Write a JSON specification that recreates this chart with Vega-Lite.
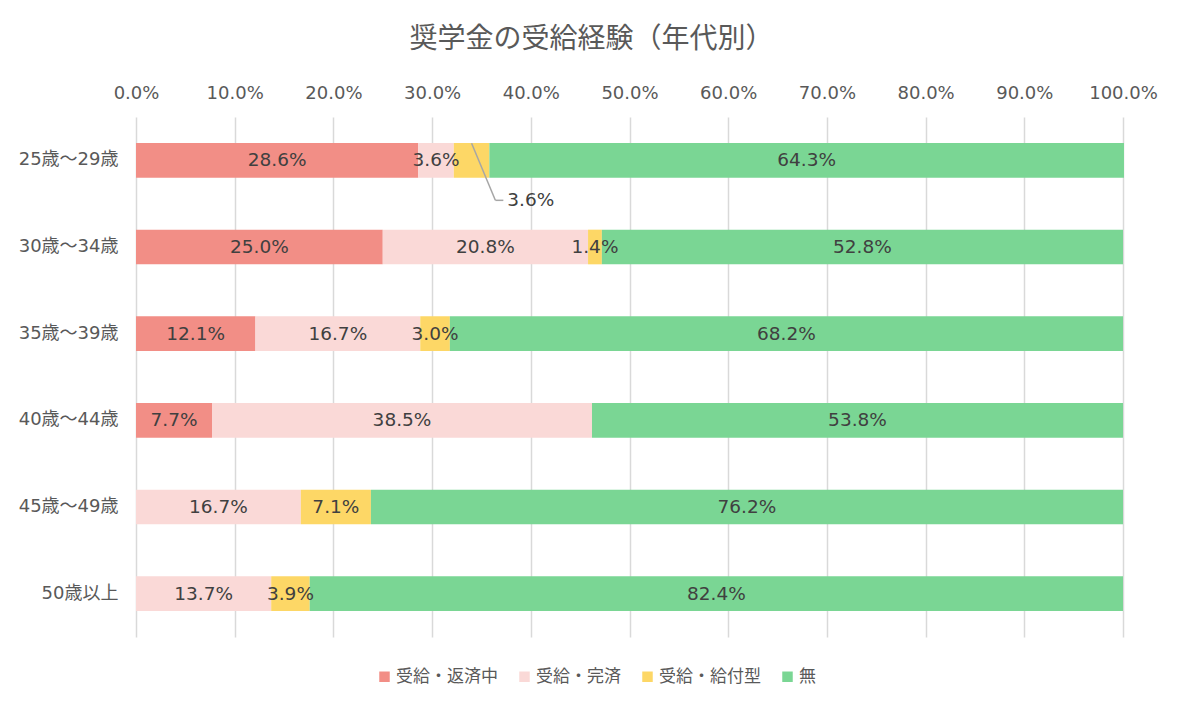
{
  "$schema": "https://vega.github.io/schema/vega-lite/v6.json",
  "width": 987,
  "height": 520,
  "autosize": "none",
  "padding": {"left": 136, "top": 117, "right": 59, "bottom": 72},
  "background": "white",
  "title": {
    "text": "奨学金の受給経験（年代別）",
    "fontSize": 28,
    "fontWeight": "normal",
    "color": "#595959",
    "font": "Noto Sans CJK JP",
    "anchor": "middle",
    "dx": -38,
    "offset": 30
  },
  "config": {
    "view": {"stroke": null},
    "font": "DejaVu Sans, Noto Sans CJK JP"
  },
  "data": {
    "values": [
      {"age": "25歳～29歳", "cat": "受給・返済中", "ord": 1, "value": 28.6},
      {"age": "25歳～29歳", "cat": "受給・完済", "ord": 2, "value": 3.6},
      {"age": "25歳～29歳", "cat": "受給・給付型", "ord": 3, "value": 3.6},
      {"age": "25歳～29歳", "cat": "無", "ord": 4, "value": 64.3},
      {"age": "30歳～34歳", "cat": "受給・返済中", "ord": 1, "value": 25.0},
      {"age": "30歳～34歳", "cat": "受給・完済", "ord": 2, "value": 20.8},
      {"age": "30歳～34歳", "cat": "受給・給付型", "ord": 3, "value": 1.4},
      {"age": "30歳～34歳", "cat": "無", "ord": 4, "value": 52.8},
      {"age": "35歳～39歳", "cat": "受給・返済中", "ord": 1, "value": 12.1},
      {"age": "35歳～39歳", "cat": "受給・完済", "ord": 2, "value": 16.7},
      {"age": "35歳～39歳", "cat": "受給・給付型", "ord": 3, "value": 3.0},
      {"age": "35歳～39歳", "cat": "無", "ord": 4, "value": 68.2},
      {"age": "40歳～44歳", "cat": "受給・返済中", "ord": 1, "value": 7.7},
      {"age": "40歳～44歳", "cat": "受給・完済", "ord": 2, "value": 38.5},
      {"age": "40歳～44歳", "cat": "受給・給付型", "ord": 3, "value": 0},
      {"age": "40歳～44歳", "cat": "無", "ord": 4, "value": 53.8},
      {"age": "45歳～49歳", "cat": "受給・返済中", "ord": 1, "value": 0},
      {"age": "45歳～49歳", "cat": "受給・完済", "ord": 2, "value": 16.7},
      {"age": "45歳～49歳", "cat": "受給・給付型", "ord": 3, "value": 7.1},
      {"age": "45歳～49歳", "cat": "無", "ord": 4, "value": 76.2},
      {"age": "50歳以上", "cat": "受給・返済中", "ord": 1, "value": 0},
      {"age": "50歳以上", "cat": "受給・完済", "ord": 2, "value": 13.7},
      {"age": "50歳以上", "cat": "受給・給付型", "ord": 3, "value": 3.9},
      {"age": "50歳以上", "cat": "無", "ord": 4, "value": 82.4}
    ]
  },
  "transform": [
    {"stack": "value", "groupby": ["age"], "sort": [{"field": "ord", "order": "ascending"}], "as": ["x0", "x1"]},
    {"calculate": "(datum.x0 + datum.x1) / 2", "as": "xm"},
    {"calculate": "format(datum.value, '.1f') + '%'", "as": "label"},
    {"calculate": "datum.age == '25歳～29歳' && datum.cat == '受給・給付型'", "as": "callout"}
  ],
  "encoding": {
    "y": {
      "field": "age",
      "type": "nominal",
      "sort": null,
      "title": null,
      "scale": {"paddingInner": 0.6, "paddingOuter": 0.3},
      "axis": {
        "domain": false,
        "ticks": false,
        "labelFontSize": 18,
        "labelColor": "#595959",
        "labelPadding": 18
      }
    }
  },
  "layer": [
    {
      "mark": {"type": "bar"},
      "encoding": {
        "x": {
          "field": "x0",
          "type": "quantitative",
          "scale": {"domain": [0, 100], "nice": false},
          "title": null,
          "axis": {
            "orient": "top",
            "values": [0, 10, 20, 30, 40, 50, 60, 70, 80, 90, 100],
            "labelExpr": "format(datum.value, '.1f') + '%'",
            "labelFlush": false,
            "labelOverlap": false,
            "domain": false,
            "ticks": false,
            "grid": true,
            "gridColor": "#d9d9d9",
            "gridWidth": 1.5,
            "labelFontSize": 18,
            "labelColor": "#595959",
            "labelPadding": 15
          }
        },
        "x2": {"field": "x1"},
        "color": {
          "field": "cat",
          "type": "nominal",
          "sort": ["受給・返済中", "受給・完済", "受給・給付型", "無"],
          "scale": {
            "domain": ["受給・返済中", "受給・完済", "受給・給付型", "無"],
            "range": ["#F28E86", "#FAD9D7", "#FDD766", "#7AD694"]
          },
          "legend": {
            "title": null,
            "orient": "none",
            "direction": "horizontal",
            "legendX": 240,
            "legendY": 551,
            "symbolType": "square",
            "symbolSize": 110,
            "symbolStrokeWidth": 0,
            "labelFontSize": 17,
            "labelFont": "Noto Sans CJK JP",
            "labelColor": "#595959",
            "labelOffset": 3,
            "columnPadding": 18
          }
        }
      }
    },
    {
      "transform": [{"filter": "datum.value > 0 && !datum.callout"}],
      "mark": {"type": "text", "fontSize": 18.5, "color": "#404040", "align": "center", "baseline": "middle"},
      "encoding": {
        "x": {"field": "xm", "type": "quantitative"},
        "text": {"field": "label"}
      }
    },
    {
      "transform": [{"filter": "datum.callout"}],
      "mark": {"type": "rule", "color": "#a6a6a6", "strokeWidth": 1.5, "yOffset": -17, "y2Offset": 40, "x2Offset": 6},
      "encoding": {
        "x": {"field": "xm", "type": "quantitative"},
        "x2": {"field": "x1"},
        "y2": {"field": "age"}
      }
    },
    {
      "transform": [{"filter": "datum.callout"}],
      "mark": {"type": "rule", "color": "#a6a6a6", "strokeWidth": 1.5, "yOffset": 40, "y2Offset": 40, "xOffset": 6, "x2Offset": 14},
      "encoding": {
        "x": {"field": "x1", "type": "quantitative"},
        "x2": {"field": "x1"},
        "y2": {"field": "age"}
      }
    },
    {
      "transform": [{"filter": "datum.callout"}],
      "mark": {"type": "text", "fontSize": 18.5, "color": "#404040", "align": "left", "baseline": "middle", "dx": 18, "dy": 40},
      "encoding": {
        "x": {"field": "x1", "type": "quantitative"},
        "text": {"field": "label"}
      }
    }
  ]
}
